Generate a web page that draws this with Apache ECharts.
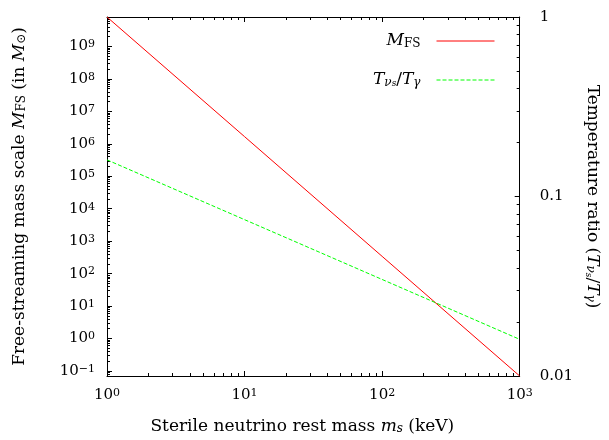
<!DOCTYPE html>
<html>
<head>
<meta charset="utf-8">
<script src="https://cdn.jsdelivr.net/npm/echarts@6/dist/echarts.min.js"></script>
<style>
  html, body { margin: 0; padding: 0; background: #fff; }
  #chart { width: 609px; height: 440px; }
</style>
</head>
<body>
<div id="chart"></div>
<script>
// data
var massKeV = [1, 10, 100, 1000]
var mfsValues = [8.07e9, 1.66e6, 340, 0.070] // M_FS (in solar masses), left axis
var tempRatio = [0.16, 0.0743, 0.0345, 0.016] // T_nus / T_gamma, right axis
var leftRange = [0.070, 8.07e9]
var rightRange = [0.01, 1]
var xRange = [1, 1000]

// tick positions (decades + 2..9 minors)
var xMajor = [1, 10, 100, 1000]
var leftMajor = [0.1, 1, 10, 100, 1e3, 1e4, 1e5, 1e6, 1e7, 1e8, 1e9]
var rightMajor = [0.01, 0.1, 1]
function minorsOf(range) {
  var out = []
  for (var k = -3; k <= 10; k++) {
    for (var j = 2; j <= 9; j++) {
      var v = j * Math.pow(10, k)
      if (v > range[0] && v < range[1]) out.push(v)
    }
  }
  return out
}
var xMinor = minorsOf(xRange)
var leftMinor = minorsOf(leftRange)
var rightMinor = minorsOf(rightRange)

var FONT = 'DejaVu Serif'
var black = '#000'
var red = '#ff0000'
var green = '#00ff00'
var dash = [4, 2]

// 10^n labels with superscript
function powLabel(v) {
  var e = Math.round(Math.log10(v))
  return '10{sup|' + (e < 0 ? '\u2212' + (-e) : e) + '}'
}
function plainLabel(v) {
  return String(v)
}

var rich = {
  sup: { fontFamily: FONT, fontSize: 11, color: black, verticalAlign: 'top', lineHeight: 10 },
  i: { fontFamily: FONT, fontSize: 17, fontStyle: 'italic', color: black },
  s: { fontFamily: FONT, fontSize: 12, color: black, verticalAlign: 'bottom', lineHeight: 12 },
  si: { fontFamily: FONT, fontSize: 12, fontStyle: 'italic', color: black, verticalAlign: 'bottom', lineHeight: 12 },
  ss: { fontFamily: FONT, fontSize: 9, fontStyle: 'italic', color: black, verticalAlign: 'bottom', lineHeight: 6 },
  n: { fontFamily: FONT, fontSize: 17, color: black }
}

// one axis; isMinor=true gives the short-tick overlay
function makeAxis(pos, range, major, minor, label, isMinor) {
  return {
    type: 'log',
    position: pos,
    min: range[0],
    max: range[1],
    axisLine: { show: !isMinor, onZero: false, lineStyle: { color: black, width: 1 } },
    axisTick: {
      show: true, inside: true, length: isMinor ? 3 : 5,
      customValues: isMinor ? minor : major,
      lineStyle: { color: black, width: 1 }
    },
    minorTick: { show: false },
    splitLine: { show: false },
    axisLabel: label ? Object.assign({
      fontFamily: FONT, fontSize: 15, color: black,
      customValues: major,
      rich: { sup: rich.sup }
    }, label) : { show: false },
    nameTextStyle: { fontFamily: FONT, fontSize: 17, color: black, rich: rich }
  }
}

var xBottom = makeAxis('bottom', xRange, xMajor, xMinor, { margin: 12, formatter: powLabel }, false)
xBottom.name = 'Sterile neutrino rest mass {i|m}{si|s} (keV)'
xBottom.nameLocation = 'middle'
xBottom.nameGap = 42
xBottom.nameTextStyle.padding = [0, 22, 0, 0]

var yLeft = makeAxis('left', leftRange, leftMajor, leftMinor, { margin: 12, formatter: powLabel }, false)
yLeft.name = 'Free-streaming mass scale {i|M}{s|FS} (in {i|M}{s|\u2299})'
yLeft.nameLocation = 'middle'
yLeft.nameGap = 79

var yRight = makeAxis('right', rightRange, rightMajor, rightMinor, { margin: 20, formatter: plainLabel }, false)
yRight.name = 'Temperature ratio ({i|T}{si|\u03bd}{ss|s}{n|/}{i|T}{si|\u03b3})'
yRight.nameLocation = 'middle'
yRight.nameRotate = -90
yRight.nameGap = 63

var option = {
  animation: false,
  backgroundColor: '#fff',
  grid: { left: 107, right: 89, top: 17, bottom: 64 },
  legend: {
    orient: 'vertical',
    right: 114,
    top: 32.5,
    padding: 0,
    itemWidth: 58,
    itemHeight: 14,
    itemGap: 22,
    align: 'right',
    data: [
      {
        name: 'mfs',
        itemStyle: { color: 'rgba(0,0,0,0)', borderWidth: 0, opacity: 0 },
        lineStyle: { color: red, width: 1, type: 'solid' }
      },
      {
        name: 'ratio',
        itemStyle: { color: 'rgba(0,0,0,0)', borderWidth: 0, opacity: 0 },
        lineStyle: { color: green, width: 1, type: dash }
      }
    ],
    textStyle: { fontFamily: FONT, fontSize: 17, color: black, padding: [0, 11, 0, 0], rich: rich },
    formatter: function(name) {
      if (name === 'mfs') return '{i|M}{s|FS}'
      return '{i|T}{si|\u03bd}{ss|s}{n|/}{i|T}{si|\u03b3}'
    }
  },
  xAxis: [
    xBottom,
    makeAxis('bottom', xRange, xMajor, xMinor, null, true),
    makeAxis('top', xRange, xMajor, xMinor, null, false),
    makeAxis('top', xRange, xMajor, xMinor, null, true)
  ],
  yAxis: [
    yLeft,
    makeAxis('left', leftRange, leftMajor, leftMinor, null, true),
    yRight,
    makeAxis('right', rightRange, rightMajor, rightMinor, null, true)
  ],
  series: [
    {
      name: 'mfs',
      type: 'line',
      xAxisIndex: 0,
      yAxisIndex: 0,
      data: massKeV.map(function(m, i) { return [m, mfsValues[i]] }),
      showSymbol: false,
      symbol: 'none',
      lineStyle: { color: red, width: 1 },
      itemStyle: { color: red }
    },
    {
      name: 'ratio',
      type: 'line',
      xAxisIndex: 0,
      yAxisIndex: 2,
      data: massKeV.map(function(m, i) { return [m, tempRatio[i]] }),
      showSymbol: false,
      symbol: 'none',
      lineStyle: { color: green, width: 1, type: dash },
      itemStyle: { color: green }
    }
  ]
}

var myChart = echarts.init(document.getElementById('chart'))
myChart.setOption(option)
</script>
</body>
</html>
